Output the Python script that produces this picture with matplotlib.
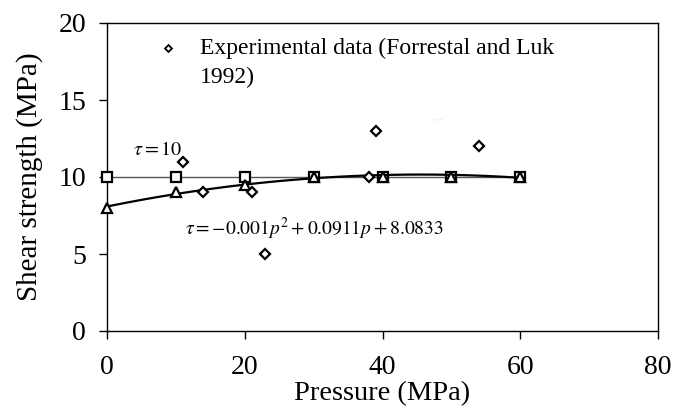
import matplotlib.pyplot as plt
import numpy as np

# tau = 10 model
p_const = [0, 10, 20, 30, 40, 50, 60]
tau_const = [10, 10, 10, 10, 10, 10, 10]

# pressure dependent model
p_tri = [0, 10, 20, 30, 40, 50, 60]
tau_tri = [8.0, 9.0, 9.5, 10.0, 10.0, 10.0, 10.0]
trend_coef = [-0.001, 0.0911, 8.0833]

# experimental data (Forrestal and Luk 1992)
p_exp = [11, 14, 21, 23, 38, 39, 54]
tau_exp = [11, 9, 9, 5, 10, 13, 12]


def main():
    plt.rcParams['font.family'] = ['Liberation Serif', 'DejaVu Serif']
    plt.rcParams['mathtext.fontset'] = 'stix'

    fig = plt.figure(figsize=(6.91, 4.08), dpi=100)
    ax = fig.add_axes([107 / 691, 1 - 331 / 408, 551 / 691, 308 / 408])

    ax.plot(p_const, tau_const, color='#555555', linewidth=1.0, marker='s',
            markersize=6.5, markerfacecolor='white', markeredgecolor='black',
            markeredgewidth=1.6, zorder=3, clip_on=False)

    pp = np.linspace(0, 60, 100)
    ax.plot(pp, np.polyval(trend_coef, pp), color='black', linewidth=1.6, zorder=3)
    ax.plot(p_tri, tau_tri, linestyle='none', marker='^', markersize=6.5,
            markerfacecolor='white', markeredgecolor='black', markeredgewidth=1.6,
            zorder=4, clip_on=False)

    ax.plot(p_exp, tau_exp, linestyle='none', marker='D', markersize=5,
            markerfacecolor='white', markeredgecolor='black', markeredgewidth=1.6, zorder=5)

    ax.set_xlim(0, 80)
    ax.set_ylim(0, 20)
    ax.set_xticks(range(0, 81, 20))
    ax.set_yticks(range(0, 21, 5))
    ax.tick_params(direction='out', length=6, width=1, labelsize=20)
    ax.tick_params(axis='x', pad=11)
    ax.tick_params(axis='y', pad=9)
    for s in ax.spines.values():
        s.set_linewidth(1.0)
    ax.set_xlabel('Pressure (MPa)', fontsize=20.5, labelpad=1)
    ax.set_ylabel('Shear strength (MPa)', fontsize=21, labelpad=11)

    # legend
    ax.plot([(168 - 107) / 551 * 80], [(331 - 48) / 308 * 20], linestyle='none',
            marker='D', markersize=3.5, markerfacecolor='white', markeredgecolor='black',
            markeredgewidth=1.3)
    ax.text(0.168, 0.87, 'Experimental data (Forrestal and Luk\n1992)',
            transform=ax.transAxes, fontsize=17, va='center', ha='left', linespacing=1.45)

    ax.text(0.047, 0.57, r'$\tau = 10$', transform=ax.transAxes, fontsize=14.5, ha='left')
    ax.text(0.142, 0.31, r'$\tau = -0.001p^2 + 0.0911p + 8.0833$',
            transform=ax.transAxes, fontsize=14, ha='left')

    # tiny trendline label left in the source chart
    ax.text(0.585, 0.68, '- - ------ ---------\n- - ----------', transform=ax.transAxes,
            fontsize=1.6, color='#999999')

    fig.savefig('out.png', dpi=100)


if __name__ == "__main__":
    main()
